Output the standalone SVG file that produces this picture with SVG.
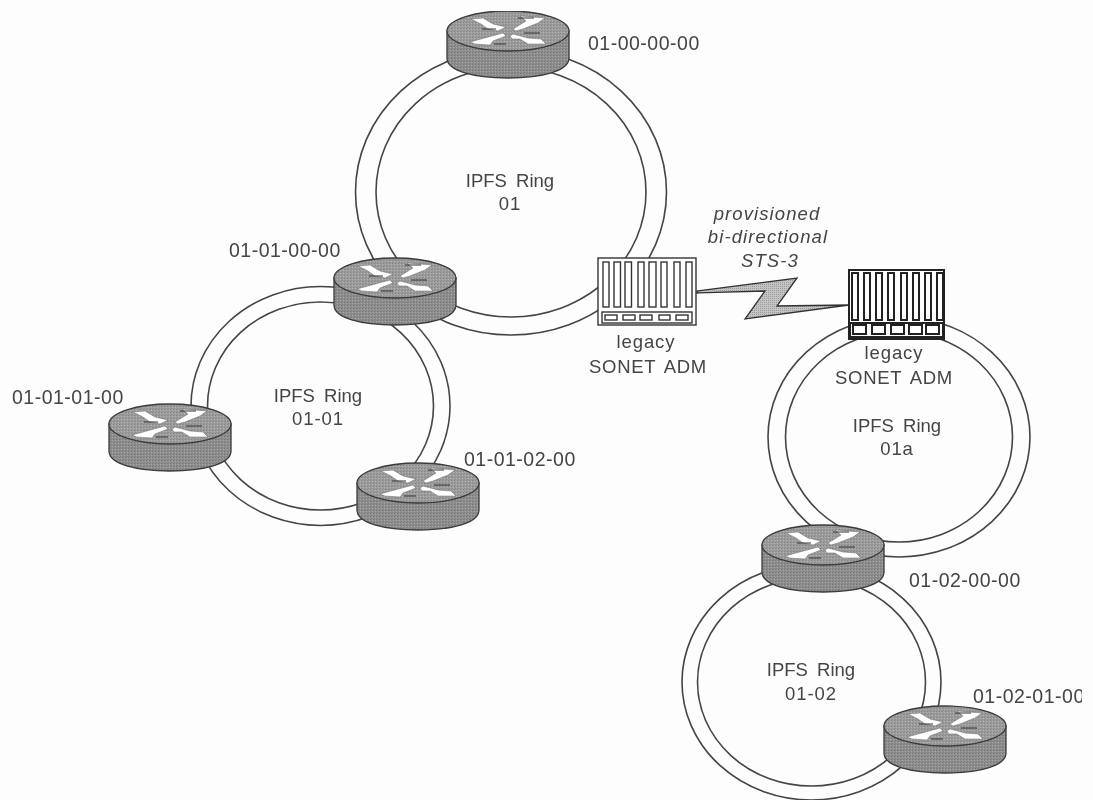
<svg xmlns="http://www.w3.org/2000/svg" width="1093" height="800" viewBox="0 0 1093 800">
<style>
.ring{fill:none;stroke:#444;stroke-width:1.6}
.t{font-family:"Liberation Sans",Arial,sans-serif;font-size:18.500px;fill:#444}
.l{font-size:19.500px;letter-spacing:.5px}
.n{letter-spacing:.9px}
.w{word-spacing:4px}
.s{letter-spacing:.7px;word-spacing:3px}
.c{text-anchor:middle}
.i{font-style:italic;letter-spacing:1.1px}
.rb{fill:url(#dark);stroke:#3a3a3a;stroke-width:1.3}
.rt{fill:url(#light);stroke:#3a3a3a;stroke-width:1.3}
.ar{fill:#fff;stroke:#666;stroke-width:.5}
.ac{fill:none;stroke:#333;stroke-width:1.2}
.adm{fill:#fff;stroke:#333;stroke-width:1.4}
.adm2{fill:#fff;stroke:#222;stroke-width:2}
</style>
<defs>
<filter id="soft" x="0" y="0" width="100%" height="100%"><feGaussianBlur stdDeviation="0.5"/></filter>
<pattern id="dark" width="3" height="3" patternUnits="userSpaceOnUse"><rect width="3" height="3" fill="#8e8e8e"/><rect width="1" height="1" fill="#747474"/><rect x="2" y="1" width="1" height="1" fill="#a6a6a6"/><rect x="1" y="2" width="1" height="1" fill="#808080"/></pattern>
<pattern id="light" width="3" height="3" patternUnits="userSpaceOnUse"><rect width="3" height="3" fill="#9c9c9c"/><rect width="1" height="1" fill="#848484"/><rect x="2" y="1" width="1" height="1" fill="#b2b2b2"/><rect x="1" y="2" width="1" height="1" fill="#8e8e8e"/></pattern>
<pattern id="bolt" width="2" height="2" patternUnits="userSpaceOnUse"><rect width="2" height="2" fill="#c4c4c4"/><rect width="1" height="1" fill="#999"/></pattern>
<clipPath id="edge"><rect x="0" y="0" width="1082" height="800"/></clipPath>
<g id="router">
<path class="rb" d="M-61 0V27C-61 40-34 47 0 47S61 40 61 27V0Z"/>
<ellipse class="rt" cx="0" cy="0" rx="61" ry="20"/>
<polygon class="ar" points="-37,-12 -25,-13 -15,-7 -2,-4 -10,0 -20,-2 -27,-7"/>
<polygon class="ar" points="5,-2 18,-10 12,-15 37,-13 30,-8 15,-2 8,0"/>
<polygon class="ar" points="-38,11 -27,8 -5,2 -2,5 -15,10 -18,14 -33,13"/>
<polygon class="ar" points="2,5 5,3 20,7 33,8 38,13 20,13 12,8 4,8"/>
<path class="ac" d="M-26 -2H-12M10 -13H26M-14 13H-2M16 2H32"/>
</g>
</defs>
<rect id="bg" width="1093" height="800" fill="#fdfdfd"/>
<g filter="url(#soft)">
<g id="connectors">
<ellipse class="ring" cx="511" cy="192" rx="155.5" ry="143"/>
<ellipse class="ring" cx="511" cy="192" rx="135" ry="125"/>
<ellipse class="ring" cx="320.500" cy="406" rx="129.500" ry="119.500"/>
<ellipse class="ring" cx="320.500" cy="406" rx="113" ry="104"/>
<ellipse class="ring" cx="899" cy="437" rx="131" ry="120"/>
<ellipse class="ring" cx="899" cy="437" rx="113.500" ry="105"/>
<ellipse class="ring" cx="811.500" cy="682" rx="129.500" ry="118"/>
<ellipse class="ring" cx="811.500" cy="682" rx="114" ry="104"/>
<polygon id="link" points="697,291 797,278 777,306 849,305 745,319 765,291 697,293" fill="url(#bolt)" stroke="#333" stroke-width="1.3"/>
</g>
<g id="r-01-00-00-00"><use href="#router" x="508" y="31"/><text class="t l" x="588" y="50">01-00-00-00</text></g>
<g id="r-01-01-00-00"><use href="#router" x="395" y="278"/><text class="t l" x="229" y="257">01-01-00-00</text></g>
<g id="r-01-01-01-00"><use href="#router" x="170" y="424"/><text class="t l" x="12" y="404">01-01-01-00</text></g>
<g id="r-01-01-02-00"><use href="#router" x="418" y="483"/><text class="t l" x="464" y="466">01-01-02-00</text></g>
<g id="r-01-02-00-00"><use href="#router" x="823" y="545"/><text class="t l" x="909" y="587">01-02-00-00</text></g>
<g id="r-01-02-01-00"><use href="#router" x="945" y="726"/><text class="t l" x="973" y="703" clip-path="url(#edge)">01-02-01-00</text></g>
<g id="adm-left">
<rect class="adm" x="598" y="258" width="98" height="67"/>
<g class="adm"><rect x="603" y="262" width="6" height="45"/><rect x="614" y="262" width="6.500" height="45"/><rect x="625" y="262" width="6.500" height="45"/><rect x="638" y="262" width="6" height="45"/><rect x="649" y="262" width="7" height="45"/><rect x="661" y="262" width="6" height="45"/><rect x="674" y="262" width="6" height="45"/><rect x="686" y="262" width="6" height="45"/>
<rect x="602" y="312" width="90" height="11"/><rect x="605" y="315" width="12" height="5"/><rect x="623" y="315" width="12" height="5"/><rect x="640" y="315" width="12" height="5"/><rect x="659" y="315" width="11" height="5"/><rect x="676" y="315" width="12" height="5"/></g>
<text class="t c n" x="646" y="348">legacy</text><text class="t c s" x="648" y="373">SONET ADM</text>
</g>
<g id="adm-right">
<rect class="adm2" x="849" y="270" width="95" height="69"/>
<g class="adm2"><rect x="852" y="273" width="6" height="47"/><rect x="864" y="273" width="6" height="47"/><rect x="876" y="273" width="6" height="47"/><rect x="888" y="273" width="6" height="47"/><rect x="901" y="273" width="6" height="47"/><rect x="913" y="273" width="6" height="47"/><rect x="925" y="273" width="6" height="47"/><rect x="937" y="273" width="6" height="47"/>
<rect x="850" y="323" width="93" height="14"/><rect x="853" y="325" width="13" height="9"/><rect x="872" y="325" width="13" height="9"/><rect x="891" y="325" width="13" height="9"/><rect x="909" y="325" width="13" height="9"/><rect x="926" y="325" width="13" height="9"/></g>
<text class="t c n" x="894" y="359">legacy</text><text class="t c s" x="894" y="384">SONET ADM</text>
</g>
<g id="labels">
<text class="t c w" x="510" y="187">IPFS Ring</text><text class="t c n" x="510" y="210">01</text>
<text class="t c w" x="318" y="402">IPFS Ring</text><text class="t c n" x="318" y="425">01-01</text>
<text class="t c w" x="897" y="432">IPFS Ring</text><text class="t c n" x="897" y="455">01a</text>
<text class="t c w" x="811" y="676">IPFS Ring</text><text class="t c n" x="811" y="700">01-02</text>
<text class="t c i" x="767" y="220">provisioned</text><text class="t c i" x="768" y="243">bi-directional</text><text class="t c i" x="770" y="267">STS-3</text>
</g>
</g>
</svg>
